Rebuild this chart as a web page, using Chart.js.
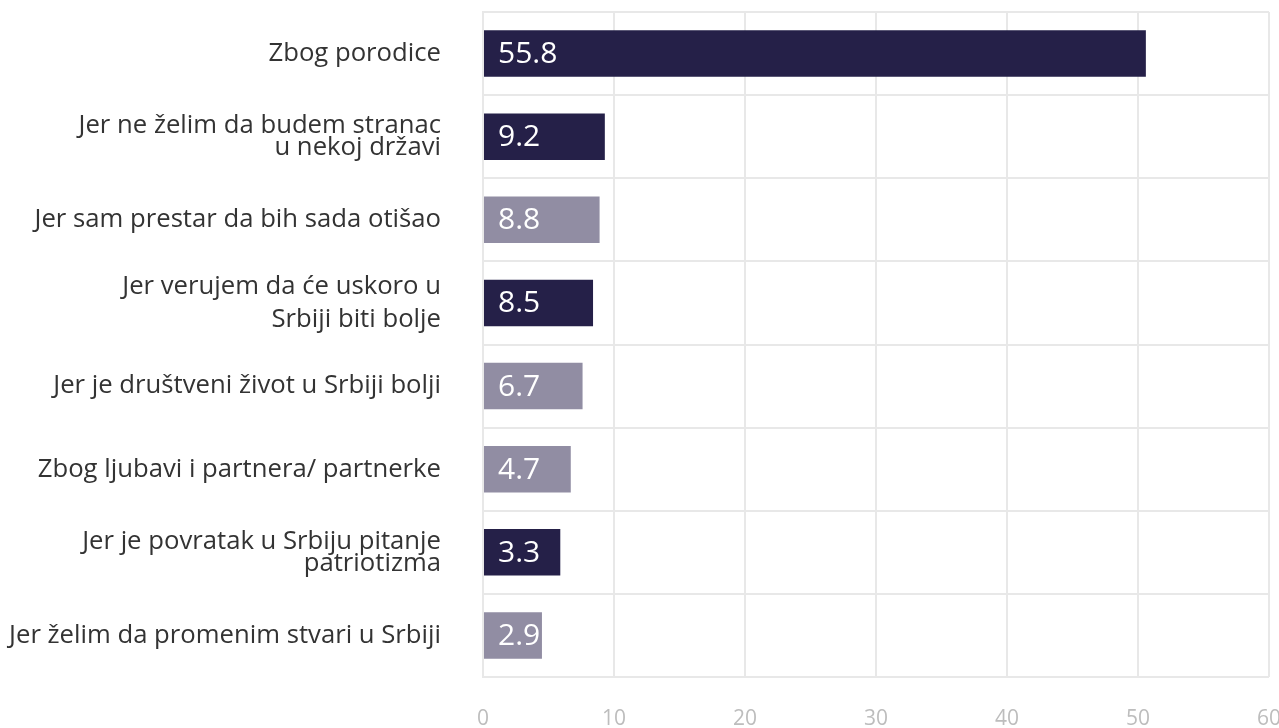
<!DOCTYPE html>
<html>
<head>
<meta charset="utf-8">
<script src="https://cdn.jsdelivr.net/npm/chart.js@4"></script>
<style>
  html, body { margin: 0; padding: 0; background: #fff; }
  #wrap { width: 1279px; height: 728px; }
</style>
</head>
<body>
<div id="wrap"><canvas id="chartReasons"></canvas></div>
<script>
const categories = [
    'Zbog porodice',
    ['Jer ne želim da budem stranac', 'u nekoj državi'],
    'Jer sam prestar da bih sada otišao',
    ['Jer verujem da će uskoro u', 'Srbiji biti bolje'],
    'Jer je društveni život u Srbiji bolji',
    'Zbog ljubavi i partnera/ partnerke',
    ['Jer je povratak u Srbiju pitanje', 'patriotizma'],
    'Jer želim da promenim stvari u Srbiji'
];
// bar lengths as drawn on the axis
const barValues = [50.6, 9.3, 8.9, 8.4, 7.6, 6.7, 5.9, 4.5];
// numbers printed inside the bars
const barTexts = ['55.8', '9.2', '8.8', '8.5', '6.7', '4.7', '3.3', '2.9'];
const barShades = ['dark', 'dark', 'light', 'dark', 'light', 'light', 'dark', 'light'];
const xTicks = [0, 10, 20, 30, 40, 50, 60];

const dark = '#252048';
const light = '#918da3';

const barTextPlugin = {
    id: 'barText',
    afterDatasetsDraw(chart) {
        const ctx = chart.ctx;
        const meta = chart.getDatasetMeta(0);
        ctx.save();
        ctx.fillStyle = '#ffffff';
        ctx.font = '30px "Open Sans"';
        ctx.textBaseline = 'middle';
        ctx.textAlign = 'left';
        meta.data.forEach((bar, i) => {
            ctx.fillText(barTexts[i], bar.base + 14, bar.y + 1);
        });
        ctx.restore();
    }
};

const ctxReasons = document.getElementById('chartReasons').getContext('2d');
const chartReasons = new Chart(ctxReasons, {
    type: 'bar',
    data: {
        labels: categories,
        datasets: [{
            label: '',
            data: barValues,
            backgroundColor: barShades.map(s => s === 'dark' ? dark : light),
            barPercentage: 0.56,
            categoryPercentage: 1
        }]
    },
    plugins: [barTextPlugin],
    options: {
        indexAxis: 'y',
        responsive: true,
        maintainAspectRatio: false,
        animation: false,
        layout: { padding: { top: 12, right: 10, left: 0, bottom: 0 } },
        plugins: {
            legend: { display: false },
            tooltip: { enabled: false }
        },
        scales: {
            x: {
                min: 0,
                max: 60,
                afterBuildTicks(scale) {
                    scale.ticks = xTicks.map(v => ({ value: v }));
                },
                afterFit(scale) {
                    scale.height = 51;
                    scale.paddingLeft = 0;
                    scale.paddingRight = 0;
                },
                grid: { color: '#e8e8e8', lineWidth: 2, drawTicks: false },
                border: { display: false },
                ticks: {
                    color: '#bdbdbd',
                    padding: 29,
                    font: { family: 'Open Sans', size: 21 }
                }
            },
            y: {
                afterFit(scale) {
                    scale.width = 483;
                    scale.paddingTop = 0;
                    scale.paddingBottom = 0;
                },
                grid: { color: '#e8e8e8', lineWidth: 2, drawTicks: false },
                border: { color: '#e8e8e8', width: 2 },
                ticks: {
                    color: '#333333',
                    padding: 42,
                    font: (c) => ({
                        family: 'Open Sans',
                        size: 25.7,
                        lineHeight: c.index === 3 ? 1.3 : 0.86
                    })
                }
            }
        }
    }
});
</script>
</body>
</html>
